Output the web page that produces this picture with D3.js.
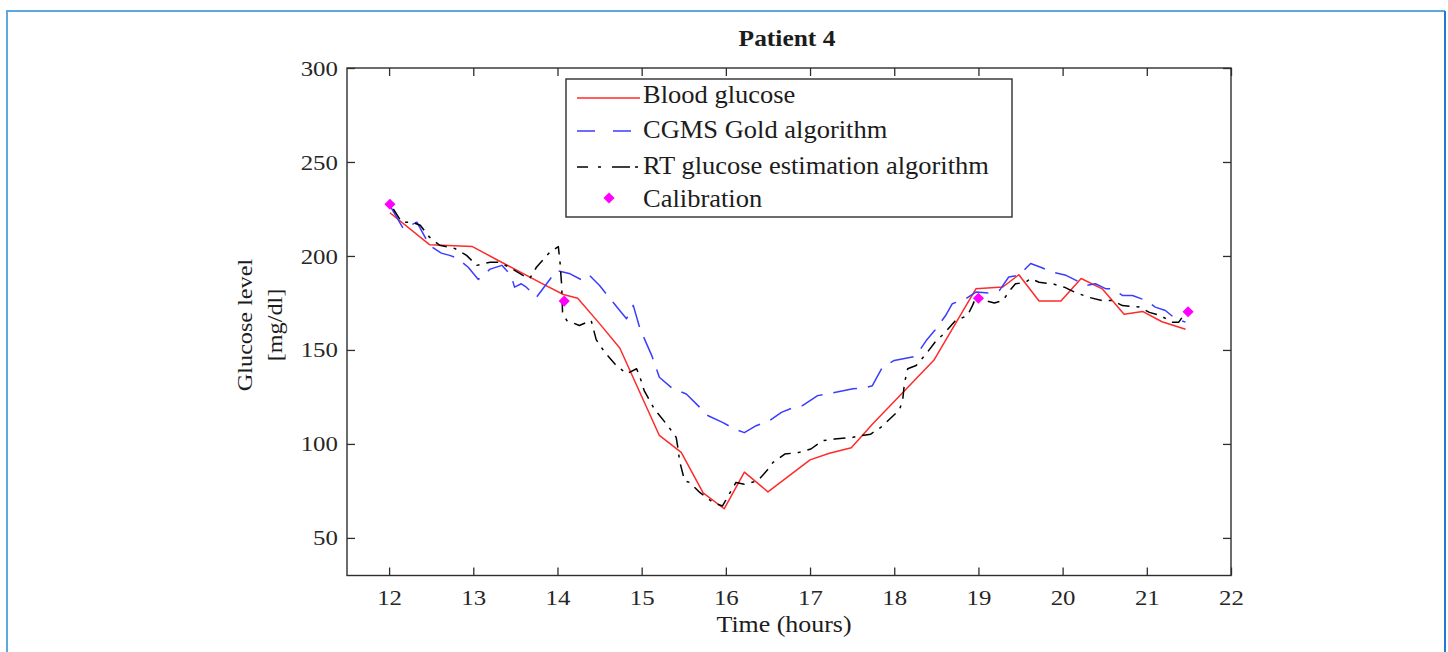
<!DOCTYPE html>
<html><head><meta charset="utf-8">
<script src="https://cdn.jsdelivr.net/npm/d3@7"></script>
<style>body{margin:0;background:#fff;} svg{display:block;} svg text{font-family:'Liberation Serif','Times New Roman',serif;}</style>
</head><body><svg id="chart" width="1448" height="652"></svg>
<script>
// ---------- data ----------
const chartTitle = "Patient 4";
const xTitle = "Time (hours)";
const yTitleLines = ["Glucose level", "[mg/dl]"];
const seriesNames = ["Blood glucose", "CGMS Gold algorithm", "RT glucose estimation algorithm", "Calibration"];
const xTicks = [12, 13, 14, 15, 16, 17, 18, 19, 20, 21, 22];
const yTicks = [50, 100, 150, 200, 250, 300];

const bgTime  = [12.01, 12.48, 12.99, 13.28, 13.83, 14.07, 14.24, 14.5, 14.74, 15.21, 15.47, 15.73, 15.98, 16.22, 16.5, 17.0, 17.23, 17.49, 17.74, 18.47, 18.97, 19.29, 19.48, 19.72, 19.98, 20.22, 20.47, 20.73, 20.95, 21.18, 21.46];
const bgValue = [223, 206, 205, 198, 185, 179.5, 177.5, 164, 151, 104.5, 95.5, 74, 65.5, 85, 74.5, 91.5, 95, 98, 110.5, 144.5, 182.5, 183.5, 190, 176, 176, 188, 182.5, 169, 170.5, 165, 161];

const cgmsTime  = [12.02, 12.17, 12.33, 12.48, 12.62, 12.72, 12.8, 12.94, 13.06, 13.2, 13.34, 13.45, 13.49, 13.57, 13.63, 13.75, 13.99, 14.15, 14.3, 14.38, 14.5, 14.72, 14.82, 14.9, 14.98, 15.12, 15.21, 15.37, 15.53, 15.79, 15.96, 16.1, 16.22, 16.36, 16.52, 16.66, 16.81, 16.91, 17.09, 17.23, 17.51, 17.66, 17.74, 17.86, 18.0, 18.24, 18.3, 18.38, 18.48, 18.61, 18.69, 18.85, 18.97, 19.13, 19.25, 19.36, 19.48, 19.62, 19.74, 19.88, 20.04, 20.16, 20.27, 20.39, 20.51, 20.59, 20.71, 20.83, 20.99, 21.1, 21.22, 21.34, 21.46];
const cgmsValue = [226, 214.5, 218, 205.7, 201.5, 200.3, 199, 194, 187.5, 193, 195, 189.7, 183.4, 185.2, 183.4, 178, 192.3, 190.5, 187, 189.7, 184.3, 172, 166.6, 173.7, 161.3, 147, 135.5, 129.3, 126.6, 115, 111.5, 108, 106, 109.7, 112.4, 116.8, 119.5, 120.4, 125.7, 126.8, 129.3, 130, 131, 140.8, 144.4, 146.5, 149.7, 155, 160.3, 168.3, 174.6, 177.2, 180.8, 180.2, 181.7, 188.8, 189.7, 196, 194, 191.4, 189.7, 187, 184.3, 185.2, 182.6, 182.6, 179, 179, 176.3, 172.8, 171, 166.6, 164.8];

const rtTime  = [12.05, 12.15, 12.27, 12.37, 12.48, 12.6, 12.78, 12.92, 13.04, 13.2, 13.3, 13.43, 13.59, 13.67, 13.75, 13.91, 14.01, 14.03, 14.05, 14.06, 14.11, 14.26, 14.4, 14.46, 14.56, 14.68, 14.82, 14.94, 14.98, 15.03, 15.15, 15.31, 15.41, 15.43, 15.45, 15.51, 15.57, 15.69, 15.85, 15.96, 16.04, 16.12, 16.22, 16.38, 16.52, 16.56, 16.7, 16.87, 17.01, 17.15, 17.29, 17.51, 17.6, 17.72, 17.84, 18.06, 18.1, 18.12, 18.16, 18.26, 18.38, 18.5, 18.59, 18.73, 18.87, 18.93, 18.97, 19.07, 19.19, 19.29, 19.39, 19.44, 19.56, 19.62, 19.72, 19.88, 20.02, 20.14, 20.31, 20.47, 20.59, 20.71, 20.91, 21.03, 21.16, 21.3, 21.38, 21.42, 21.44];
const rtValue = [225, 218, 218, 216.3, 210, 205.7, 204, 200.3, 195, 196.7, 196.7, 194, 189.7, 188, 194, 202, 205, 196.7, 184.3, 170, 165.7, 163, 165.7, 155.5, 148.8, 142.6, 137.3, 140, 135.5, 128.4, 118.6, 109.7, 103.5, 98, 91, 80.4, 79.5, 74.2, 68.8, 67, 73.3, 79.5, 78.6, 80.4, 87.5, 90.2, 94.6, 95.5, 97.3, 101.7, 102.6, 103.5, 104.4, 105.2, 108.8, 118, 123, 132, 140, 141.7, 148, 155, 158.6, 165.7, 168.3, 173.7, 178, 176.3, 175, 176.3, 182.6, 185.2, 186, 188, 186, 185.2, 183.4, 180.8, 178, 176.3, 176.3, 173.6, 172.8, 170, 168.3, 164.8, 164.8, 167.4, 164.3];

const calTime  = [12.01, 14.08, 19.0, 21.49];
const calValue = [227.5, 176, 177.5, 170.3];

// ---------- drawing ----------
const svg = d3.select("#chart");
const font = "'Liberation Serif', 'Times New Roman', serif";
const axisColor = "#2e2e2e";
const textColor = "#1c1c1c";

// outer frame
svg.append("path").attr("d", "M7,660 L7,11 L1445,11").attr("fill", "none").attr("stroke", "#5ba9dd").attr("stroke-width", 2);
svg.append("path").attr("d", "M1445,11 L1445,660").attr("fill", "none").attr("stroke", "#1f7ad0").attr("stroke-width", 2);

const x = d3.scaleLinear().domain([11.5, 22]).range([347, 1231]);
const y = d3.scaleLinear().domain([30, 300]).range([575.5, 68]);

function addText(g, str, px, py, o) {
  return g.append("text")
    .attr("transform", `translate(${px},${py})` + (o.rotate ? ` rotate(${o.rotate})` : "") + ` scale(${o.sx || 1},1)`)
    .attr("text-anchor", o.anchor || "start")
    .style("font-family", font)
    .attr("font-size", o.size)
    .attr("font-weight", o.weight || "normal")
    .attr("fill", textColor)
    .text(str);
}

// axes
const gx = svg.append("g").attr("transform", `translate(0,${y.range()[0]})`)
  .call(d3.axisBottom(x).tickValues(xTicks).tickSizeInner(-8).tickSizeOuter(0).tickPadding(14).tickFormat(d3.format("d")));
const gy = svg.append("g").attr("transform", `translate(${x.range()[0]},0)`)
  .call(d3.axisLeft(y).tickValues(yTicks).tickSizeInner(-8).tickSizeOuter(0).tickPadding(8).tickFormat(d3.format("d")));
const gxt = svg.append("g").attr("transform", `translate(0,${y.range()[1]})`)
  .call(d3.axisTop(x).tickValues(xTicks).tickSizeInner(-8).tickSizeOuter(0).tickFormat(""));
const gyr = svg.append("g").attr("transform", `translate(${x.range()[1]},0)`)
  .call(d3.axisRight(y).tickValues(yTicks).tickSizeInner(-8).tickSizeOuter(0).tickFormat(""));
[gx, gy, gxt, gyr].forEach(g => {
  g.attr("font-family", null).style("font-family", font);
  g.select(".domain").remove();
  g.selectAll("line").attr("stroke", axisColor).attr("stroke-width", 1.3);
  g.selectAll("text").style("font-family", font).attr("font-size", 22).attr("fill", "#262626").attr("transform", "scale(1.13,1)");
});
svg.append("rect").attr("x", x.range()[0]).attr("y", y.range()[1])
  .attr("width", x.range()[1] - x.range()[0]).attr("height", y.range()[0] - y.range()[1])
  .attr("fill", "none").attr("stroke", axisColor).attr("stroke-width", 1.4);

// titles
addText(svg, chartTitle, 787, 46, {size: 24, weight: "bold", sx: 1.06, anchor: "middle"});
addText(svg, xTitle, 784, 632, {size: 24, sx: 1.08, anchor: "middle"});
addText(svg, yTitleLines[0], 252, 325, {size: 22, sx: 1.1, anchor: "middle", rotate: -90});
addText(svg, yTitleLines[1], 282, 325, {size: 22, sx: 1.1, anchor: "middle", rotate: -90});

// series
const line = d3.line().x(d => x(d[0])).y(d => y(d[1]));
const series = [
  {t: bgTime, v: bgValue, color: "#ff2a2a", dash: null},
  {t: cgmsTime, v: cgmsValue, color: "#3c3cff", dash: "24,11"},
  {t: rtTime, v: rtValue, color: "#000000", dash: "12,7,3,7"}
];
series.forEach(s => {
  svg.append("path").datum(d3.zip(s.t, s.v)).attr("d", line)
    .attr("fill", "none").attr("stroke", s.color).attr("stroke-width", 1.5)
    .attr("stroke-linejoin", "round")
    .attr("stroke-dasharray", s.dash);
});
const diamond = d3.symbol().type(d3.symbolSquare).size(62);
svg.append("g").selectAll("path").data(d3.zip(calTime, calValue)).join("path")
  .attr("d", diamond)
  .attr("transform", d => `translate(${x(d[0])},${y(d[1])}) rotate(45)`)
  .attr("fill", "#ff00ff");

// legend
const lg = svg.append("g");
lg.append("rect").attr("x", 566).attr("y", 79).attr("width", 446).attr("height", 138)
  .attr("fill", "#fff").attr("stroke", axisColor).attr("stroke-width", 1.4);
const legendRows = [
  {name: seriesNames[0], color: "#ff2a2a", dash: null, ly: 98, ty: 103},
  {name: seriesNames[1], color: "#3c3cff", dash: "18,18", ly: 131, ty: 138},
  {name: seriesNames[2], color: "#000000", dash: "11,10,3,11,18,5,3", ly: 167, ty: 174},
  {name: seriesNames[3], color: null, dash: null, ly: 198, ty: 207}
];
legendRows.forEach(r => {
  if (r.color) {
    lg.append("line").attr("x1", 577).attr("x2", 640).attr("y1", r.ly).attr("y2", r.ly)
      .attr("stroke", r.color).attr("stroke-width", 1.5).attr("stroke-dasharray", r.dash);
  } else {
    lg.append("path").attr("d", diamond).attr("transform", `translate(609,${r.ly}) rotate(45)`).attr("fill", "#ff00ff");
  }
  addText(lg, r.name, 643, r.ty, {size: 25, sx: 1.06});
});
</script>
</body></html>
